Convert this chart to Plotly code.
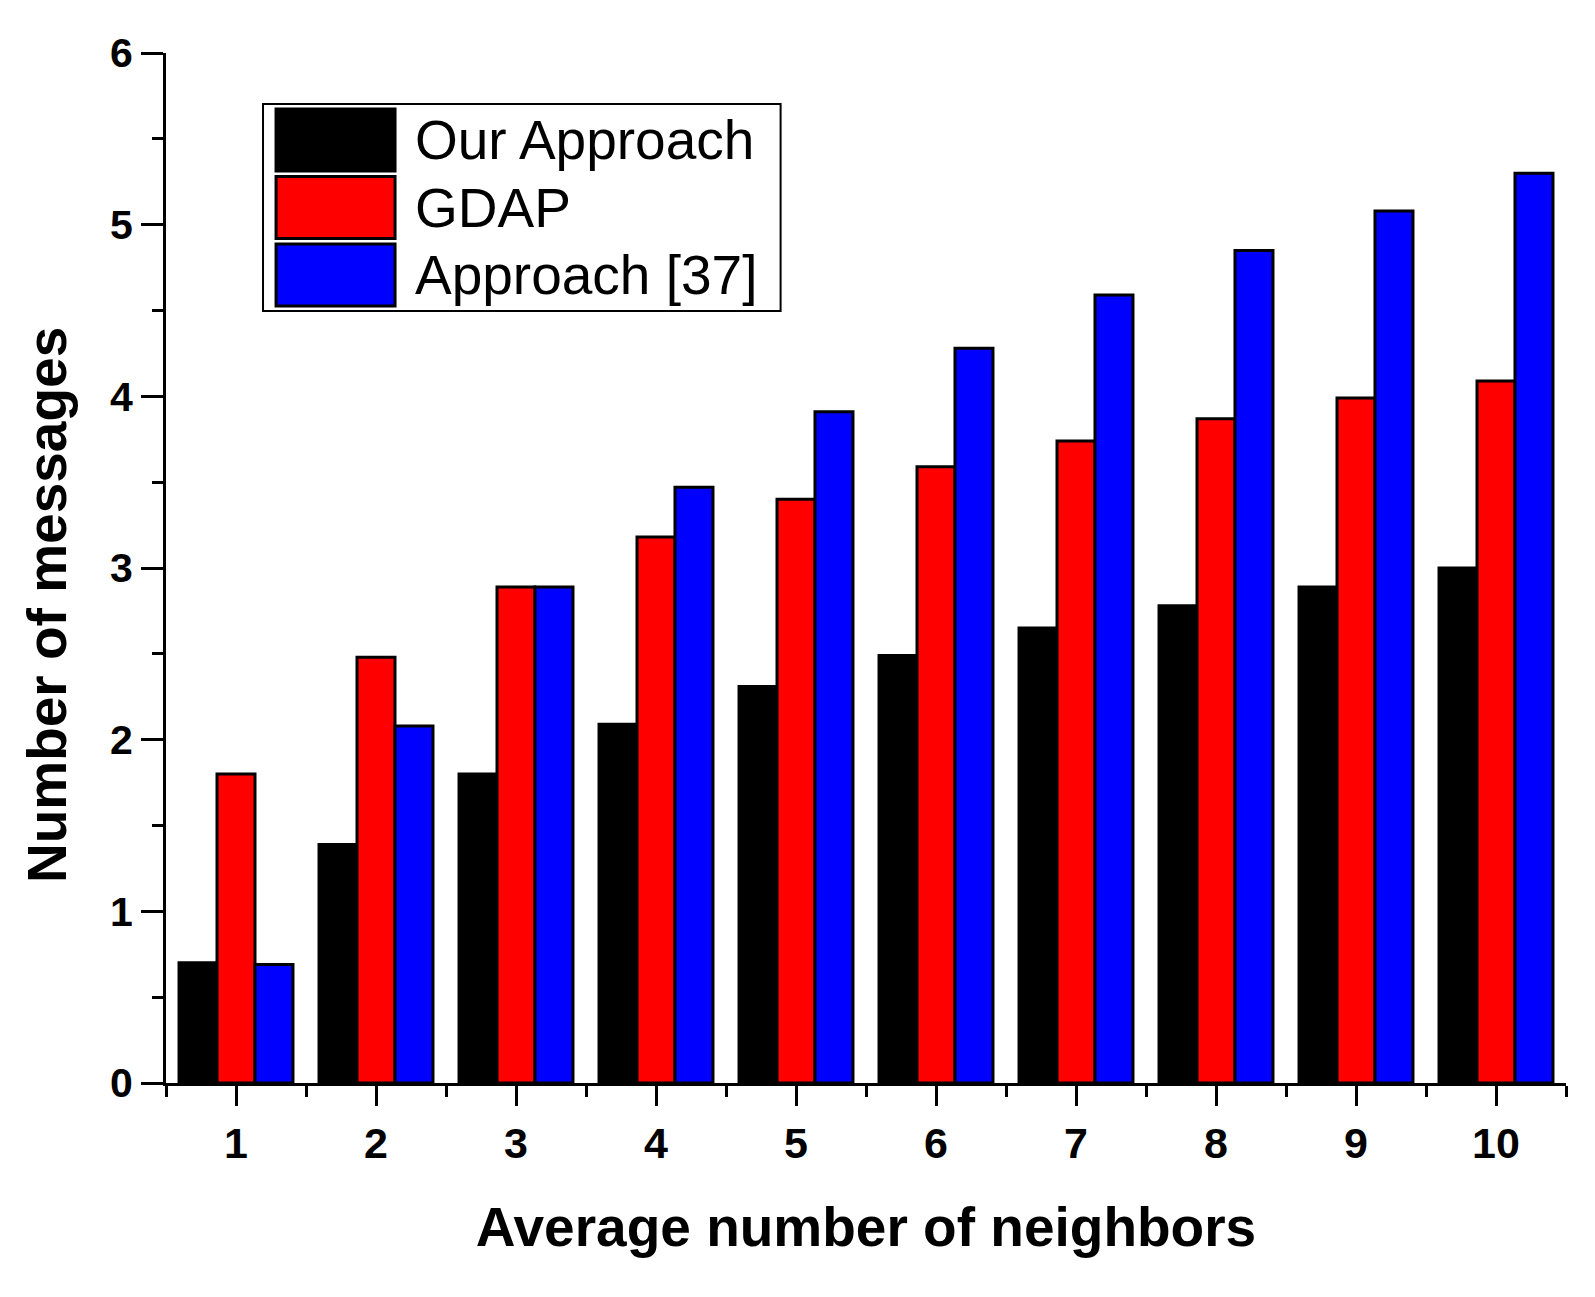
import plotly.graph_objects as go

neighbors = [1, 2, 3, 4, 5, 6, 7, 8, 9, 10]
our_approach = [0.70, 1.39, 1.80, 2.09, 2.31, 2.49, 2.65, 2.78, 2.89, 3.00]
gdap = [1.80, 2.48, 2.89, 3.18, 3.40, 3.59, 3.74, 3.87, 3.99, 4.09]
approach_37 = [0.69, 2.08, 2.89, 3.47, 3.91, 4.28, 4.59, 4.85, 5.08, 5.30]

series_names = ['Our Approach', 'GDAP', 'Approach [37]']
series_values = [our_approach, gdap, approach_37]
colors = ['#000000', '#ff0000', '#0000ff']

font_family = 'Arial, Liberation Sans, sans-serif'

fig = go.Figure()
for name, vals, col in zip(series_names, series_values, colors):
    fig.add_trace(go.Bar(
        name=name,
        x=neighbors,
        y=vals,
        marker_color=col,
        marker_line=dict(color='black', width=3),
        showlegend=False
    ))

# hand-made legend with big swatches like the original
row_h = 0.0655
for i, (name, col) in enumerate(zip(series_names, colors)):
    top = 0.9456 - i * row_h
    fig.add_shape(
        type='rect', xref='paper', yref='paper',
        x0=0.0786, x1=0.1636, y0=top - 0.0602, y1=top,
        fillcolor=col, line=dict(color='black', width=3)
    )
    fig.add_annotation(
        x=0.1764, y=top - 0.0301, xref='paper', yref='paper',
        text=name, showarrow=False, xanchor='left', yanchor='middle',
        font=dict(family=font_family, size=55, color='black')
    )
fig.add_shape(
    type='rect', xref='paper', yref='paper',
    x0=0.0693, x1=0.439, y0=0.7495, y1=0.9505,
    fillcolor='rgba(0,0,0,0)', line=dict(color='black', width=2)
)

fig.add_annotation(
    x=0, y=0.464, xref='paper', yref='paper',
    text='Number of messages', showarrow=False, textangle=-90,
    xanchor='center', yanchor='middle', xshift=-119,
    font=dict(family=font_family, size=55, color='black', weight='bold')
)

fig.update_xaxes(
    range=[0.5, 10.5],
    tickvals=neighbors,
    ticks='outside', ticklen=20, tickwidth=3, tickcolor='black',
    minor=dict(tickvals=[n - 0.5 for n in neighbors] + [10.5],
               ticks='outside', ticklen=11, tickwidth=3, tickcolor='black'),
    showline=True, linewidth=3, linecolor='black',
    showgrid=False, zeroline=False,
    tickfont=dict(family=font_family, size=43, color='black', weight='bold'),
    title=dict(text='Average number of neighbors', standoff=42,
               font=dict(family=font_family, size=55, color='black', weight='bold'))
)
fig.update_yaxes(
    range=[0, 6],
    dtick=1,
    ticks='outside', ticklen=22, tickwidth=3, tickcolor='black',
    minor=dict(dtick=0.5, ticks='outside', ticklen=11, tickwidth=3, tickcolor='black'),
    showline=True, linewidth=3, linecolor='black',
    showgrid=False, zeroline=False,
    tickfont=dict(family=font_family, size=41, color='black', weight='bold')
)

# page body has an 8px margin, so the figure is a bit smaller than the window
fig.update_layout(
    width=1587,
    height=1289,
    margin=dict(l=158, r=29, t=45, b=214),
    barmode='group',
    bargap=0.186,
    bargroupgap=0,
    plot_bgcolor='white',
    paper_bgcolor='white'
)

fig.write_html('out.html')
